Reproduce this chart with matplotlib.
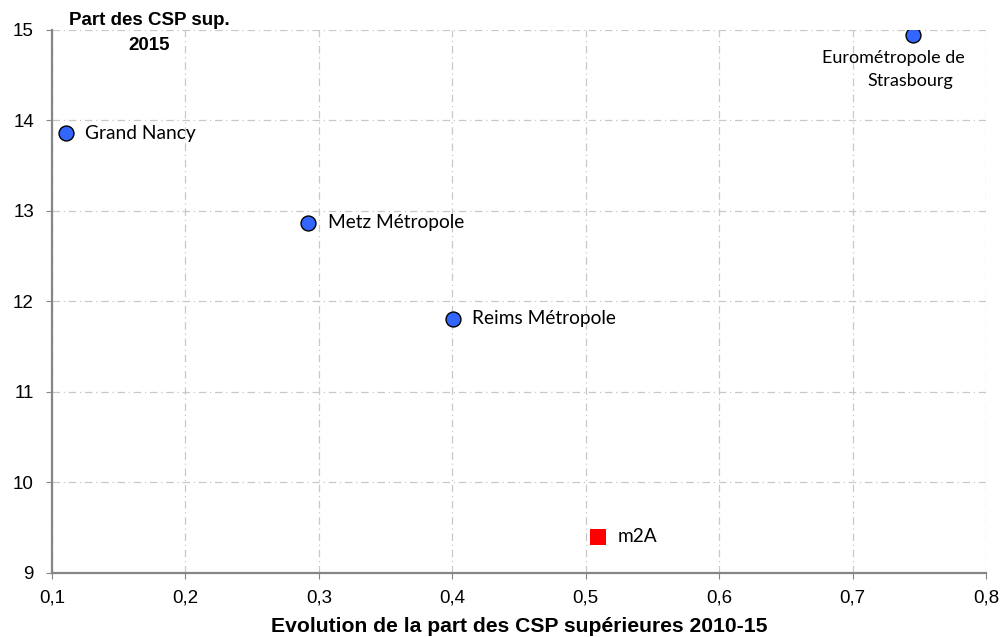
import matplotlib
matplotlib.use("Agg")
import matplotlib.pyplot as plt
from matplotlib.ticker import FuncFormatter

# data
names = ["Grand Nancy", "Metz Métropole", "Reims Métropole"]
evol = [0.1105, 0.292, 0.4005]
part = [13.86, 12.87, 11.81]
stras_name = ["Eurométropole de", "Strasbourg"]
stras_evol = 0.745
stras_part = 14.94
m2a_name = "m2A"
m2a_evol = 0.509
m2a_part = 9.40

label_font = ["Lato", "DejaVu Sans"]
tick_font = ["Liberation Sans Narrow", "Liberation Sans", "DejaVu Sans"]
bold_font = ["Liberation Sans", "DejaVu Sans"]

fig = plt.figure(figsize=(10, 6.37), dpi=100)
ax = fig.add_axes([0.052, 0.1005, 0.934, 0.8525])

ax.scatter(evol + [stras_evol], part + [stras_part], s=115, c="#3366ff",
           edgecolors="black", linewidths=1.0, zorder=3)
ax.scatter([m2a_evol], [m2a_part], s=130, marker="s", c="#ff0000",
           edgecolors="none", zorder=3)

for x, y, n in zip(evol, part, names):
    ax.annotate(n, (x, y), xytext=(14, 0), textcoords="offset points",
                ha="left", va="center", fontsize=13.8, family=label_font)
ax.annotate(m2a_name, (m2a_evol, m2a_part), xytext=(14, 0), textcoords="offset points",
            ha="left", va="center", fontsize=13.8, family=label_font)
ax.annotate(stras_name[0], (stras_evol, stras_part), xytext=(-14, -16),
            textcoords="offset points", ha="center", va="center",
            fontsize=13, family=label_font)
ax.annotate(stras_name[1], (stras_evol, stras_part), xytext=(-2, -33),
            textcoords="offset points", ha="center", va="center",
            fontsize=13, family=label_font)

ax.set_xlim(0.1, 0.8)
ax.set_ylim(9, 15)
ax.set_xticks([0.1, 0.2, 0.3, 0.4, 0.5, 0.6, 0.7, 0.8])
ax.set_yticks([9, 10, 11, 12, 13, 14, 15])
ax.xaxis.set_major_formatter(FuncFormatter(lambda v, p: f"{v:.1f}".replace(".", ",")))
ax.yaxis.set_major_formatter(FuncFormatter(lambda v, p: f"{v:.0f}"))

ax.grid(True, color="#c8c8c8", linestyle=(0, (6, 3, 1, 3)), linewidth=0.9)
ax.set_axisbelow(True)
for s in ["top", "right"]:
    ax.spines[s].set_visible(False)
for s in ["left", "bottom"]:
    ax.spines[s].set_color("#868686")
    ax.spines[s].set_linewidth(1.6)
ax.tick_params(axis="both", labelsize=13.5, labelfontfamily=tick_font)
ax.tick_params(axis="y", direction="out", length=4, color="#868686", pad=9)
ax.tick_params(axis="x", direction="out", length=4, color="#868686", pad=8)

fig.text(0.149, 0.968, "Part des CSP sup.", ha="center", va="center",
         fontsize=13.5, fontweight="bold", family=bold_font)
fig.text(0.149, 0.929, "2015", ha="center", va="center",
         fontsize=13.5, fontweight="bold", family=bold_font)
fig.text(0.519, 0.016, "Evolution de la part des CSP supérieures 2010-15", ha="center",
         va="center", fontsize=15.2, fontweight="bold", family=bold_font)

fig.savefig("out.png", dpi=100)
